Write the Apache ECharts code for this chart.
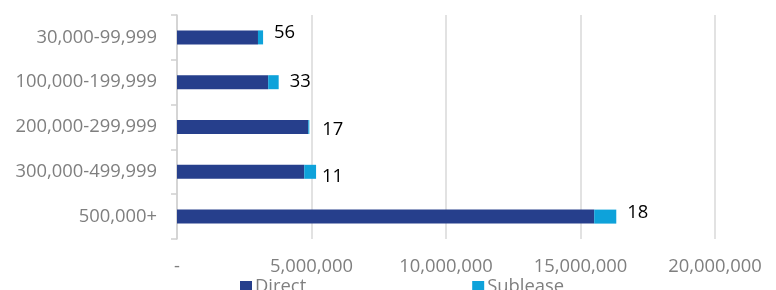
<!DOCTYPE html>
<html>
<head>
<meta charset="utf-8">
<script src="https://cdn.jsdelivr.net/npm/echarts@6/dist/echarts.min.js"></script>
<style>
html, body { margin: 0; padding: 0; background: #fff; }
#container_bar { width: 776px; height: 290px; }
</style>
</head>
<body>
<div id="container_bar"></div>
<script>
// 面积段
var categories = ["30,000-99,999", "100,000-199,999", "200,000-299,999", "300,000-499,999", "500,000+"];
// Direct 面积
var directValues = [3010000, 3390000, 4880000, 4730000, 15510000];
// Sublease 面积
var subleaseValues = [190000, 390000, 40000, 440000, 820000];
// 标签数字
var counts = [56, 33, 17, 11, 18];

/**
 * 横向堆叠柱状图
 */
function initChart_bar(selector) {
	var dom = document.getElementById(selector);
	var myChart = echarts.init(dom);
	var font = "'Open Sans', 'Noto Sans', sans-serif";
	var fs = 18.4;
	// 标签微调
	var shift = [[0, -5], [0, 0], [2, 3], [-5, 5], [0, -4]];

	var subData = [];
	for (var i = 0; i < subleaseValues.length; i++) {
		subData.push({
			value: subleaseValues[i],
			label: { offset: shift[i] }
		});
	}

	var option = {
		animation: false,
		textStyle: { fontFamily: font },
		grid: { left: 177, right: 61, top: 15, bottom: 51, containLabel: false },
		legend: {
			data: ["Direct", "Sublease"],
			left: 235,
			top: 273,
			itemWidth: 12,
			itemHeight: 12,
			itemGap: 166,
			icon: "rect",
			textStyle: { color: "#7f7f7f", fontSize: fs, fontFamily: font, padding: [0, 0, 0, -2] }
		},
		xAxis: {
			type: "value",
			min: 0,
			max: 20000000,
			interval: 5000000,
			axisLine: { show: false },
			axisTick: { show: false },
			splitLine: { lineStyle: { color: "#d9d9d9", width: 1.5 } },
			axisLabel: {
				color: "#7f7f7f",
				fontSize: fs,
				margin: 19,
				formatter: function(v) {
					if (v === 0) return "-";
					return v.toString().replace(/\B(?=(\d{3})+(?!\d))/g, ",");
				}
			}
		},
		yAxis: {
			type: "category",
			inverse: true,
			data: categories,
			axisLine: { lineStyle: { color: "#d0d0d0", width: 1.5 } },
			axisTick: { show: true, length: 6, lineStyle: { color: "#d0d0d0", width: 1.5 } },
			axisLabel: { color: "#7f7f7f", fontSize: fs, margin: 20 }
		},
		series: [
			{
				name: "Direct",
				type: "bar",
				stack: "total",
				barWidth: 14,
				itemStyle: { color: "#263f8c" },
				data: directValues
			},
			{
				name: "Sublease",
				type: "bar",
				stack: "total",
				barWidth: 14,
				itemStyle: { color: "#0ea2da" },
				label: {
					show: true,
					position: "right",
					distance: 11,
					color: "#000",
					fontSize: fs,
					formatter: function(p) {
						return counts[p.dataIndex];
					}
				},
				data: subData
			}
		]
	};
	myChart.setOption(option, true);
}

initChart_bar("container_bar");
</script>
</body>
</html>
